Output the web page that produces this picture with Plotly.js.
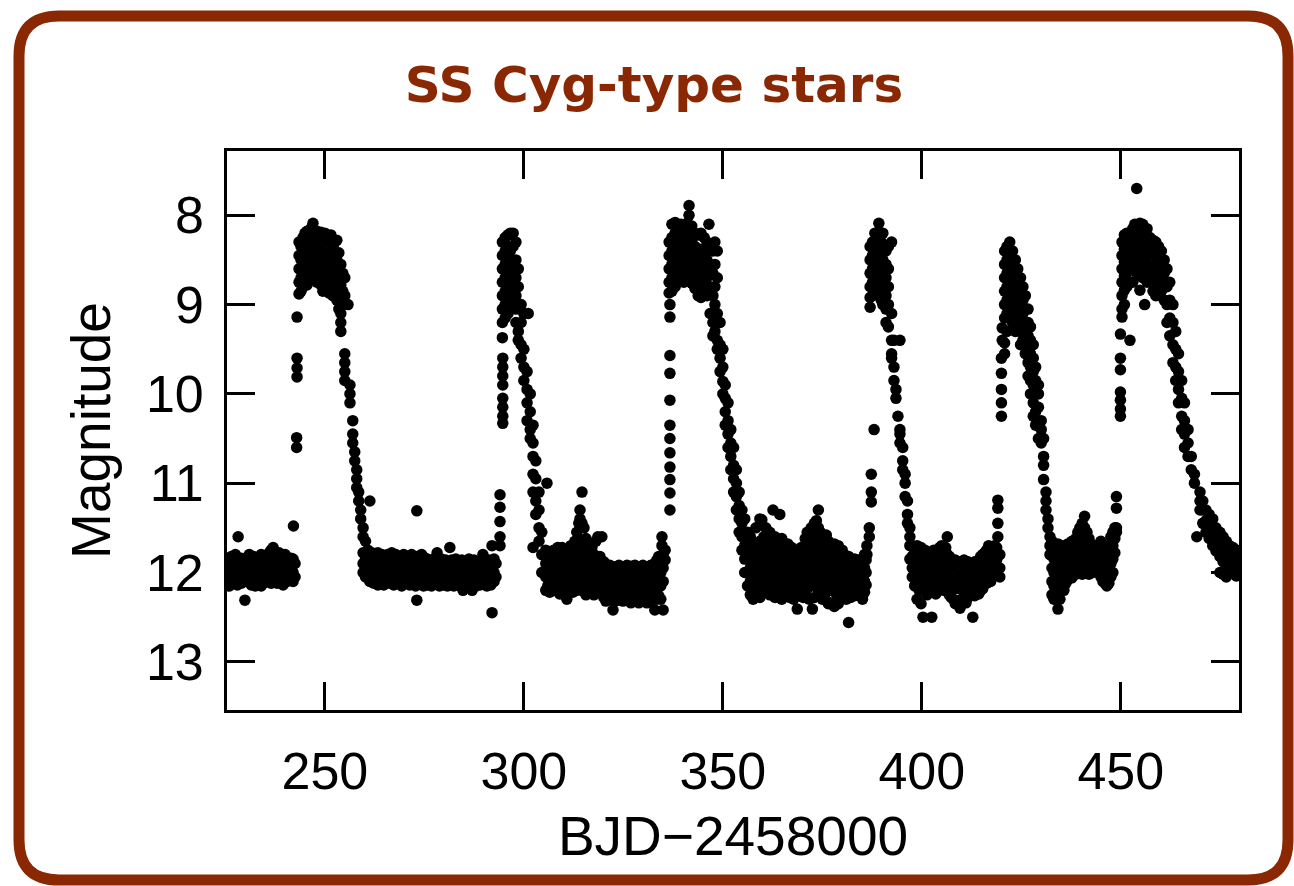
<!DOCTYPE html>
<html>
<head>
<meta charset="utf-8">
<script src="https://cdn.plot.ly/plotly-3.0.1.min.js"></script>
<style>
html,body{margin:0;padding:0;background:#fff;}
#chart{width:1294px;height:886px;}
</style>
</head>
<body>
<div id="chart"></div>
<script>
// ---- Data: each row is [BJD-2458000, magnitude, magnitude, ...] ----
const quiescence1 = [
[225.6, 11.85, 11.98, 12.10],[226.0, 11.90, 12.05, 12.15],[226.5, 11.82, 11.95, 12.08],
[227.0, 11.88, 12.00, 12.12],[227.5, 11.80, 11.92, 12.05],[228.0, 11.86, 12.00, 12.14],
[228.2, 11.60],[228.5, 11.90, 12.02, 12.10],[229.0, 11.84, 11.96, 12.12],[229.5, 11.90, 12.05],
[229.9, 12.31, 11.95],[230.5, 11.85, 11.98, 12.10],[231.0, 11.80, 11.92, 12.06],
[231.5, 11.88, 12.00, 12.14],[232.0, 11.82, 11.95, 12.08],[232.5, 11.90, 12.04, 12.15],
[233.0, 11.85, 11.98, 12.10],[233.5, 11.88, 12.02],[234.0, 11.80, 11.94, 12.08, 12.15],
[234.5, 11.86, 12.00, 12.12],[235.0, 11.82, 11.96, 12.10],[235.5, 11.90, 12.04],
[236.0, 11.78, 11.92, 12.06],[236.5, 11.75, 11.88, 12.00, 12.12],[237.0, 11.72, 11.85, 11.98, 12.10],
[237.5, 11.80, 11.94, 12.06],[238.0, 11.85, 12.00, 12.12],[238.5, 11.78, 11.90, 12.04],
[239.0, 11.82, 11.95, 12.10],[239.5, 11.88, 12.02, 12.14],[240.0, 11.80, 11.92, 12.05],
[240.5, 11.86, 11.98, 12.10],[241.0, 11.90, 12.04],[241.5, 11.84, 11.96],
[242.0, 11.85, 12.00, 12.10],[242.5, 11.90, 12.05]
];
const outburst1 = [
[242.1, 11.48],[242.9, 10.60, 10.49],[243.0, 9.81, 9.71, 9.60, 9.14],
[243.5, 8.30, 8.45, 8.60, 8.75, 8.88],[244.0, 8.35, 8.50, 8.70, 8.85],[244.5, 8.25, 8.40, 8.55, 8.80],
[245.0, 8.20, 8.38, 8.60, 8.72],[245.5, 8.18, 8.32, 8.50, 8.65, 8.78],[246.0, 8.22, 8.45, 8.62],
[246.5, 8.15, 8.30, 8.55, 8.70],[247.0, 8.09, 8.25, 8.40, 8.60],[247.5, 8.20, 8.35, 8.52, 8.68],
[248.0, 8.18, 8.30, 8.48, 8.62, 8.75],[248.5, 8.25, 8.40, 8.55],[249.0, 8.19, 8.35, 8.60, 8.78],
[249.5, 8.22, 8.42, 8.70, 8.85],[250.0, 8.20, 8.30, 8.50, 8.65],[250.5, 8.26, 8.45, 8.60, 8.80],
[251.0, 8.30, 8.50, 8.68, 8.87],[251.5, 8.22, 8.40, 8.58, 8.75],[252.0, 8.35, 8.55, 8.70, 8.90],
[252.5, 8.30, 8.45, 8.62, 8.82],[253.0, 8.28, 8.50, 8.72, 8.95],[253.5, 8.42, 8.60, 8.85, 9.05],
[254.0, 8.55, 8.78, 9.10, 9.20, 9.30],[254.5, 8.65, 8.85, 9.00],[255.0, 8.70, 8.90, 9.55, 9.65, 9.75, 9.85],
[255.8, 9.00],[256.3, 9.90, 10.00, 10.10],[257.0, 10.30, 10.45, 10.55],[257.5, 10.65, 10.75],
[258.0, 10.85, 10.95, 11.05],[258.5, 11.10, 11.20],[259.0, 11.30, 11.40],
[259.6, 11.50, 11.60, 11.78, 11.90, 12.00],[260.2, 11.65, 11.85, 12.05]
];
const quiescence2 = [
[260.8, 11.75, 11.90, 12.05],[261.3, 11.20, 11.82, 11.98, 12.10],[261.8, 11.78, 11.92, 12.06],
[262.3, 11.85, 12.00, 12.12],[262.8, 11.80, 11.95, 12.08],[263.3, 11.78, 11.90, 12.04, 12.14],
[263.8, 11.85, 11.98, 12.10],[264.3, 11.80, 11.94, 12.06],[264.8, 11.88, 12.02, 12.14],
[265.3, 11.82, 11.96, 12.10],[265.8, 11.80, 11.92, 12.05],[266.3, 11.86, 12.00, 12.12],
[266.8, 11.78, 11.94, 12.08],[267.3, 11.84, 11.98, 12.14],[267.8, 11.80, 11.90, 12.04],
[268.3, 11.86, 12.00, 12.12],[268.8, 11.82, 11.95, 12.08],[269.3, 11.88, 12.02, 12.15],
[269.8, 11.80, 11.94, 12.06],[270.3, 11.85, 11.98, 12.10],[270.8, 11.82, 11.92, 12.05],
[271.3, 11.86, 12.00, 12.14],[271.8, 11.80, 11.96, 12.08],[272.3, 11.84, 11.98, 12.12],
[272.8, 11.88, 12.02, 12.15],[273.1, 11.31, 12.31],[273.3, 11.82, 11.95, 12.08],
[273.8, 11.86, 12.00, 12.12],[274.3, 11.80, 11.94, 12.06],[274.8, 11.88, 12.04, 12.15],
[275.3, 11.84, 11.98, 12.10],[275.8, 11.90, 12.02, 12.14],[276.3, 11.86, 11.96, 12.08],
[276.8, 11.90, 12.04, 12.15],[277.3, 11.85, 12.00, 12.12],[277.8, 11.90, 12.05],
[278.2, 11.78, 11.92, 12.08],[278.8, 11.88, 12.02, 12.15],[279.3, 11.85, 11.98, 12.10],
[279.8, 11.90, 12.04, 12.14],[280.3, 11.86, 12.00, 12.12],[280.8, 11.90, 12.06, 12.15],
[281.4, 11.72, 11.88, 12.00, 12.12],[281.9, 11.86, 12.02, 12.14],[282.4, 11.90, 12.05, 12.15],
[282.9, 11.85, 12.00, 12.10],[283.4, 11.88, 12.04, 12.14],[283.9, 11.90, 12.02, 12.12],
[284.4, 11.86, 12.00, 12.15],[284.7, 12.20],[285.2, 11.88, 12.04, 12.14],[285.7, 11.90, 12.00, 12.10],
[286.2, 11.85, 12.05, 12.15],[286.7, 11.90, 12.02, 12.12],[287.0, 12.20],[287.5, 11.86, 12.00, 12.14],
[288.0, 11.90, 12.04, 12.15],[288.5, 11.88, 12.02, 12.10],[289.0, 11.90, 12.05, 12.14],
[289.7, 11.80, 11.92, 12.06],[290.2, 11.88, 12.00, 12.12],[290.7, 11.90, 12.04, 12.15],
[291.2, 11.86, 12.00, 12.10],[291.7, 11.88, 12.04, 12.14],[292.0, 11.70, 11.90, 12.05, 12.45],
[292.5, 11.85, 12.00, 12.10],[293.0, 11.90, 12.05]
];
const outburst2 = [
[294.0, 11.70, 11.60, 11.43, 11.27, 11.13],[294.7, 10.33, 10.25, 10.15, 10.05, 9.90, 9.80, 9.70, 9.60],
[294.6, 9.37, 9.20, 9.05, 8.90, 8.75, 8.60, 8.45, 8.30],[295.3, 8.25, 8.40, 8.55, 8.70, 8.85, 9.00, 9.15],
[296.0, 8.22, 8.35, 8.50, 8.65, 8.80, 8.95, 9.10],[296.6, 8.20, 8.40, 8.60, 8.75, 8.90],
[297.3, 8.20, 8.35, 8.55, 8.70, 8.85, 9.00],[298.0, 8.30, 8.50, 8.70, 8.90, 9.05, 9.20],
[298.6, 8.60, 8.80, 9.00, 9.30, 9.40],[299.3, 9.00, 9.20, 9.45, 9.60],[300.0, 9.10, 9.50, 9.70, 9.85],
[300.8, 9.75, 9.95, 10.10, 10.30],[301.1, 9.10],[301.6, 10.00, 10.20, 10.40, 10.50],
[302.3, 10.35, 10.55, 10.70, 10.90, 11.10, 11.72],[303.0, 10.75, 10.95, 11.20, 11.35],
[303.8, 11.10, 11.30, 11.50, 11.65],[304.5, 11.55, 11.80, 12.00],[305.8, 11.00]
];
const quiescence3 = [
[305.5, 11.75, 11.90, 12.05, 12.20],[306.0, 11.85, 12.00, 12.15],[306.5, 11.78, 11.92, 12.08, 12.22],
[307.0, 11.82, 11.96, 12.10],[307.5, 11.75, 11.90, 12.04, 12.20],[308.0, 11.80, 11.95, 12.12],
[308.5, 11.72, 11.88, 12.02, 12.18],[309.0, 11.80, 11.94, 12.10, 12.24],[309.6, 11.72, 11.86, 12.00, 12.15],
[310.2, 11.78, 11.92, 12.06, 12.20],[310.8, 11.84, 11.98, 12.12, 12.30],[311.3, 11.75, 11.90, 12.05, 12.20],
[311.8, 11.70, 11.85, 12.00, 12.15],[312.3, 11.78, 11.92, 12.08, 12.22],[312.8, 11.65, 11.82, 11.98, 12.12],
[313.3, 11.55, 11.72, 11.90, 12.05, 12.20],[313.8, 11.45, 11.62, 11.80, 11.95, 12.10],[314.1, 11.30, 11.40],
[314.6, 11.10, 11.45, 11.70, 11.88, 12.05, 12.20],[315.1, 11.50, 11.68, 11.85, 12.00, 12.15],
[315.6, 11.62, 11.80, 11.95, 12.10, 12.25],[316.1, 11.70, 11.86, 12.00, 12.18],[316.6, 11.75, 11.90, 12.05, 12.20],
[317.1, 11.72, 11.88, 12.02, 12.16],[317.6, 11.80, 11.95, 12.10, 12.25],[318.1, 11.65, 11.85, 12.00, 12.15],
[318.6, 11.60, 11.90, 12.05, 12.20],[319.1, 11.82, 11.96, 12.12],[319.6, 11.60, 11.90, 12.04, 12.20],
[320.1, 11.88, 12.00, 12.15, 12.28],[320.6, 11.92, 12.05, 12.20, 12.32],[321.1, 11.95, 12.08, 12.22],
[321.6, 11.92, 12.04, 12.18, 12.30],[322.1, 11.96, 12.10, 12.25],[322.4, 12.42],
[322.9, 11.94, 12.06, 12.20, 12.32],[323.4, 11.98, 12.12, 12.26],[323.9, 11.92, 12.05, 12.18, 12.30],
[324.4, 11.95, 12.10, 12.24],[324.9, 11.94, 12.06, 12.20, 12.32],[325.4, 11.98, 12.12, 12.26],
[325.9, 11.92, 12.04, 12.18, 12.30],[326.4, 11.96, 12.10, 12.24],[326.9, 11.93, 12.06, 12.20, 12.34],
[327.4, 11.98, 12.12, 12.26],[327.9, 11.92, 12.05, 12.18, 12.30],[328.4, 11.95, 12.10, 12.25],
[328.9, 11.94, 12.08, 12.22, 12.34],[329.4, 11.96, 12.12, 12.28],[329.9, 11.92, 12.04, 12.18, 12.30],
[330.4, 11.98, 12.10, 12.24],[330.9, 11.94, 12.06, 12.20, 12.34],[331.4, 11.96, 12.12, 12.28],
[331.9, 11.92, 12.05, 12.20, 12.32],[332.4, 11.95, 12.10, 12.26],[332.9, 11.90, 12.04, 12.18, 12.42],
[333.4, 11.86, 12.00, 12.14, 12.30],[333.9, 11.82, 11.98, 12.12, 12.26],[334.4, 11.85, 12.00, 12.15, 12.30],
[335.0, 11.80, 11.95, 12.10, 12.42]
];
const outburst3 = [
[334.7, 11.60, 11.70],[335.5, 11.75, 11.86],
[336.7, 11.30, 11.11, 10.96, 10.82, 10.66, 10.50, 10.35, 10.07, 9.77, 9.57, 9.14, 9.00],
[336.5, 8.30, 8.45, 8.60, 8.75, 8.87],[337.2, 8.10, 8.25, 8.40, 8.55, 8.70, 8.85],
[338.0, 8.08, 8.20, 8.35, 8.50, 8.65, 8.80],[338.8, 8.12, 8.28, 8.45, 8.60, 8.75],
[339.5, 8.10, 8.25, 8.40, 8.55, 8.70],[340.2, 8.15, 8.30, 8.45, 8.60, 8.75],
[341.0, 8.09, 8.22, 8.38, 8.52, 8.66],[341.5, 7.89, 8.00, 8.15, 8.30],
[342.2, 8.12, 8.28, 8.45, 8.60, 8.76],[343.0, 8.20, 8.35, 8.50, 8.68, 8.82],
[343.8, 8.22, 8.40, 8.58, 8.75, 8.90],[344.5, 8.20, 8.38, 8.55, 8.72, 8.92],
[345.3, 8.25, 8.45, 8.62, 8.80],[346.0, 8.30, 8.50, 8.70, 8.90],[346.5, 8.10, 8.35, 8.60],
[346.8, 8.80, 9.10],[347.5, 8.40, 8.65, 8.90, 9.20, 9.35],[348.0, 8.30, 8.55, 8.80, 9.00, 9.30],
[348.6, 8.40, 8.70, 9.10, 9.40, 9.50],[349.3, 9.20, 9.45, 9.60, 9.75],[350.0, 9.50, 9.70, 9.86, 10.00],
[350.6, 9.90, 10.05, 10.20, 10.35],[351.3, 10.10, 10.30, 10.45, 10.60],[352.0, 10.40, 10.55, 10.70, 10.85],
[352.7, 10.60, 10.80, 10.95, 11.10],[353.4, 10.85, 11.00, 11.15, 11.30],[354.1, 11.10, 11.25, 11.40, 11.55],
[354.8, 11.30, 11.45, 11.60, 11.75],[355.5, 11.40, 11.55, 11.70, 11.85, 12.00],
[356.2, 11.55, 11.70, 11.85, 12.00, 12.15],[356.9, 11.60, 11.78, 11.95, 12.10, 12.25],
[357.6, 11.70, 11.85, 12.00, 12.15, 12.30],[358.3, 11.50, 11.75, 11.90, 12.05, 12.20],
[359.3, 11.40, 11.65, 11.82, 11.98, 12.12, 12.28]
];
const quiescence4 = [
[359.8, 11.41, 11.70, 11.88, 12.05, 12.20],[360.3, 11.60, 11.78, 11.95, 12.12],
[360.8, 11.50, 11.72, 11.90, 12.05, 12.22],[361.3, 11.65, 11.82, 12.00, 12.15],
[361.8, 11.55, 11.75, 11.92, 12.08, 12.25],[362.3, 11.70, 11.85, 12.02, 12.18],[362.6, 11.30],
[363.1, 11.60, 11.80, 11.96, 12.12, 12.28],[363.6, 11.72, 11.90, 12.05, 12.20],
[364.3, 11.35, 11.70, 11.85, 12.00, 12.15],[364.8, 11.62, 11.80, 11.98, 12.12, 12.30],
[365.3, 11.70, 11.88, 12.04, 12.18],[365.8, 11.75, 11.92, 12.08, 12.25],[366.3, 11.68, 11.85, 12.00, 12.15],
[366.8, 11.78, 11.95, 12.10, 12.28],[367.3, 11.72, 11.88, 12.04, 12.20],[367.8, 11.80, 11.96, 12.12, 12.30],
[368.3, 11.75, 11.90, 12.06, 12.22],[368.7, 11.85, 12.00, 12.15, 12.41],[369.2, 11.78, 11.94, 12.10, 12.26],
[369.7, 11.72, 11.88, 12.04, 12.20],[370.2, 11.80, 11.96, 12.12, 12.28],
[370.7, 11.62, 11.78, 11.94, 12.10, 12.24],[371.2, 11.55, 11.70, 11.86, 12.02, 12.18],
[371.7, 11.60, 11.75, 11.92, 12.08, 12.30],[372.2, 11.50, 11.68, 11.85, 12.00, 12.15],[372.5, 12.41],
[373.0, 11.45, 11.65, 11.82, 11.98, 12.14, 12.28],[373.5, 11.42, 11.60, 11.78, 11.95, 12.10],
[374.0, 11.30, 11.50, 11.70, 11.88, 12.04, 12.20],[374.5, 11.55, 11.72, 11.90, 12.06, 12.22],
[375.0, 11.60, 11.78, 11.95, 12.10, 12.30],[375.5, 11.62, 11.80, 11.96, 12.12, 12.26],
[376.0, 11.58, 11.75, 11.92, 12.08, 12.22],[376.5, 11.65, 11.82, 11.98, 12.15, 12.35],
[377.0, 11.70, 11.85, 12.02, 12.18, 12.34],[377.5, 11.72, 11.90, 12.05, 12.20],
[378.0, 11.68, 11.84, 12.00, 12.15, 12.38],[378.5, 11.75, 11.92, 12.08, 12.24],
[379.0, 11.70, 11.86, 12.02, 12.18, 12.35],[379.5, 11.78, 11.94, 12.10, 12.26],
[380.0, 11.75, 11.90, 12.05, 12.20],[380.5, 11.80, 11.95, 12.10, 12.24],[381.0, 11.85, 12.00, 12.14, 12.30],
[381.6, 11.82, 11.98, 12.12, 12.56],[382.1, 11.86, 12.00, 12.15, 12.28],[382.6, 11.90, 12.04, 12.18],
[383.1, 11.85, 12.00, 12.12, 12.26],[383.6, 11.88, 12.02, 12.16],[384.1, 11.86, 12.00, 12.14, 12.25],
[384.6, 11.90, 12.04, 12.18],[385.1, 11.85, 12.00, 12.12, 12.30],[385.6, 11.80, 11.95, 12.10, 12.22],
[386.0, 11.86, 12.00, 12.14]
];
const outburst4 = [
[386.2, 11.80, 11.70],[386.8, 11.60, 11.50],[387.3, 11.21, 11.10, 10.90],[388.0, 10.40],
[387.0, 8.35, 8.50, 8.65, 8.80, 8.92, 9.03],[387.6, 8.30, 8.45, 8.60, 8.75, 8.90],
[388.2, 8.20, 8.35, 8.50, 8.65, 8.80],[389.2, 8.09, 8.25, 8.40, 8.55, 8.70, 8.85],
[389.8, 8.30, 8.45, 8.60, 8.75, 8.95],[390.2, 8.20, 8.35, 8.50, 8.70, 8.85, 9.00],
[391.0, 8.40, 8.55, 8.70, 8.90, 9.05, 9.20],[391.6, 8.35, 8.60, 8.80, 9.00, 9.25],
[392.4, 8.30, 9.10, 9.40, 9.55, 9.60],[393.0, 9.40, 9.70, 9.85],[393.5, 9.95, 10.05],[394.0, 10.25],
[394.5, 9.40, 10.40, 10.45, 10.55],[395.2, 10.60, 10.75, 10.85],[395.8, 10.90, 11.00, 11.15],
[396.4, 11.20, 11.35, 11.45],[397.0, 11.50, 11.60, 11.70, 11.85],[397.6, 11.70, 11.82, 11.95, 12.05],
[398.2, 11.75, 11.90, 12.02, 12.15]
];
const quiescence5 = [
[398.8, 11.70, 11.85, 12.00, 12.15, 12.30],[399.3, 11.78, 11.92, 12.06, 12.20],
[399.8, 11.72, 11.88, 12.02, 12.16, 12.35],[400.3, 11.80, 11.95, 12.10, 12.50],
[400.8, 11.75, 11.90, 12.04, 12.20],[401.3, 11.82, 11.96, 12.10, 12.25],[401.8, 11.78, 11.92, 12.06, 12.20],
[402.5, 11.85, 12.00, 12.14, 12.50],[403.0, 11.75, 11.90, 12.05, 12.20],[403.5, 11.80, 11.95, 12.10, 12.24],
[404.0, 11.78, 11.92, 12.06, 12.20],[404.5, 11.72, 11.88, 12.02, 12.16],[405.0, 11.70, 11.85, 12.00, 12.15],
[405.5, 11.76, 11.90, 12.05, 12.20],[406.0, 11.72, 11.88, 12.02, 12.18],[406.4, 11.60, 11.80, 11.95, 12.10],
[406.9, 11.82, 11.96, 12.10, 12.25],[407.4, 11.85, 12.00, 12.14, 12.28],[407.9, 11.88, 12.02, 12.16, 12.30],
[408.4, 11.86, 12.00, 12.14, 12.35],[408.9, 11.90, 12.04, 12.18, 12.32],[409.6, 11.88, 12.02, 12.16, 12.40],
[410.1, 11.90, 12.04, 12.18, 12.30],[410.6, 11.86, 12.00, 12.14, 12.26],[411.1, 11.90, 12.05, 12.20, 12.34],
[411.6, 11.88, 12.02, 12.16, 12.28],[412.1, 11.90, 12.04, 12.18],[412.8, 11.92, 12.06, 12.20, 12.50],
[413.3, 11.88, 12.00, 12.14, 12.26],[413.8, 11.90, 12.04, 12.18],[414.3, 11.86, 12.00, 12.12, 12.24],
[414.8, 11.82, 11.96, 12.10, 12.20],[415.3, 11.80, 11.95, 12.08, 12.18],[415.8, 11.78, 11.92, 12.05],
[416.3, 11.75, 11.88, 12.02, 12.12],[416.8, 11.70, 11.85, 12.00],[417.3, 11.72, 11.86, 12.00, 12.10],
[417.8, 11.75, 11.90, 12.04],[418.3, 11.70, 11.84, 11.98],[418.8, 11.72, 11.86, 12.00],
[419.1, 11.19, 11.28, 11.45, 11.60]
];
const outburst5 = [
[419.6, 11.80, 11.95, 12.05],[420.0, 10.25, 10.10, 9.95, 9.77, 9.60],[420.2, 9.40, 9.26],
[420.8, 8.40, 8.55, 8.70, 8.85, 9.00, 9.15, 9.43, 9.55],[421.4, 8.35, 8.50, 8.65, 8.80, 8.95, 9.10, 9.30],
[422.1, 8.30, 8.45, 8.60, 8.75, 8.90, 9.05],[422.8, 8.40, 8.55, 8.70, 8.85, 9.00, 9.20],
[423.5, 8.50, 8.65, 8.80, 8.95, 9.10, 9.30],[424.1, 8.60, 8.75, 8.90, 9.05, 9.25],
[424.8, 8.70, 8.85, 9.00, 9.15, 9.30, 9.45],[425.4, 8.80, 8.95, 9.10, 9.25, 9.40],
[426.0, 8.90, 9.05, 9.20, 9.40, 9.55],[426.7, 9.05, 9.20, 9.35, 9.50, 9.65, 9.80],
[427.3, 9.25, 9.40, 9.55, 9.70, 9.85, 10.00],[428.0, 9.45, 9.60, 9.75, 9.90, 10.10, 10.25],
[428.6, 9.70, 9.85, 10.00, 10.20, 10.35],[429.3, 9.90, 10.00, 10.15, 10.35, 10.50],[430.0, 10.30, 10.40, 10.55],
[430.6, 10.50, 10.70, 10.80, 10.96],[431.2, 11.10, 11.20, 11.30],[431.7, 11.40, 11.50],
[432.2, 11.60, 11.70, 11.80]
];
const quiescence6 = [
[432.7, 11.65, 11.80, 11.95, 12.10, 12.25],[433.2, 11.70, 11.85, 12.00, 12.15, 12.30],
[433.7, 11.75, 11.90, 12.05, 12.20],[434.2, 11.68, 11.82, 11.98, 12.12, 12.41],
[434.7, 11.72, 11.88, 12.02, 12.18, 12.30],[435.2, 11.70, 11.85, 12.00, 12.14],
[435.7, 11.75, 11.90, 12.04, 12.20],[436.2, 11.72, 11.86, 12.00, 12.12],[436.7, 11.68, 11.82, 11.96, 12.08],
[437.2, 11.70, 11.85, 12.00],[437.7, 11.65, 11.80, 11.94, 12.06],[438.2, 11.70, 11.84, 11.98],
[438.7, 11.62, 11.76, 11.90, 12.02],[439.2, 11.55, 11.70, 11.85, 11.98],[439.7, 11.50, 11.65, 11.80, 11.94],
[440.3, 11.45, 11.60, 11.75, 11.90, 12.02],[440.9, 11.37, 11.50, 11.65, 11.80, 11.95],
[441.5, 11.55, 11.70, 11.85, 12.00],[442.0, 11.62, 11.76, 11.90, 12.02],[442.5, 11.68, 11.82, 11.96],
[443.0, 11.70, 11.85, 12.00],[443.5, 11.72, 11.86, 11.98],[444.0, 11.70, 11.84, 11.96],
[444.5, 11.75, 11.88, 12.00],[445.0, 11.65, 11.80, 11.94, 12.05],[445.5, 11.70, 11.85, 11.98, 12.10],
[446.0, 11.72, 11.86, 12.00, 12.12],[446.5, 11.75, 11.90, 12.05, 12.15],[447.0, 11.70, 11.85, 12.00, 12.12],
[447.5, 11.60, 11.75, 11.90, 12.05],[448.0, 11.55, 11.70, 11.85, 12.00],[448.5, 11.50, 11.62, 11.78],
[448.9, 11.15, 11.28, 11.50, 11.55]
];
const outburst6 = [
[449.9, 10.25, 10.17, 10.07, 9.98, 9.73, 9.60, 9.33],[450.3, 8.30, 8.45, 8.60, 8.75, 8.90, 9.05, 9.14],
[450.9, 8.22, 8.38, 8.52, 8.68, 8.84, 9.00],[451.5, 8.20, 8.35, 8.50, 8.65, 8.80],
[452.3, 8.30, 8.45, 8.60, 8.75, 9.40],[453.0, 8.15, 8.30, 8.45, 8.60, 8.75],[453.5, 8.10, 8.25, 8.40, 8.55],
[454.0, 7.70, 8.20, 8.35, 8.50, 8.65],[454.8, 8.09, 8.22, 8.38, 8.52, 8.68, 8.84],
[455.5, 8.10, 8.25, 8.40, 8.55, 8.70],[456.0, 8.20, 8.35, 8.50, 8.65, 9.00],
[456.6, 8.15, 8.30, 8.45, 8.60, 8.75],[457.3, 8.25, 8.40, 8.55, 8.70],[458.1, 8.28, 8.42, 8.58, 8.72, 8.85],
[458.8, 8.30, 8.45, 8.60, 8.75, 8.90],[459.5, 8.35, 8.50, 8.65, 8.80],[460.2, 8.40, 8.55, 8.70, 8.85],
[460.9, 8.50, 8.65, 8.80, 8.95],[461.6, 8.60, 8.80, 9.00, 9.20],[462.3, 8.75, 8.95, 9.15, 9.35],
[463.1, 9.00, 9.20, 9.45, 9.65],[463.8, 9.30, 9.50, 9.70, 9.85],[464.5, 9.55, 9.75, 9.95, 10.10],
[465.3, 9.85, 10.05, 10.25, 10.40],[466.0, 10.10, 10.30, 10.45, 10.60],[466.9, 10.40, 10.55, 10.70],
[467.7, 10.70, 10.85],[468.5, 10.90, 11.00],[469.1, 11.60],[469.9, 11.10, 11.20, 11.30],
[470.6, 11.20, 11.30, 11.45],[471.4, 11.30, 11.42, 11.55],[472.2, 11.35, 11.50, 11.62],
[473.1, 11.40, 11.55, 11.70],[473.9, 11.50, 11.62, 11.76],[474.9, 11.55, 11.70, 11.82, 12.00],
[475.7, 11.60, 11.75, 11.88, 12.02],[476.5, 11.65, 11.80, 11.92, 12.05],[477.3, 11.70, 11.84, 11.96],
[478.2, 11.72, 11.86, 12.00],[479.0, 11.75, 11.90, 12.04],[479.6, 11.80, 11.95]
];
const segments = [quiescence1, outburst1, quiescence2, outburst2, quiescence3, outburst3,
                  quiescence4, outburst4, quiescence5, outburst5, quiescence6, outburst6];

const xTickVals = [250, 300, 350, 400, 450];
const xTickText = ['250', '300', '350', '400', '450'];
const yTickVals = [8, 9, 10, 11, 12, 13];
const yTickText = ['8', '9', '10', '11', '12', '13'];

// ---- Build point lists ----
const bjd = [], mag = [];
segments.forEach(seg => seg.forEach(row => {
  for (let k = 1; k < row.length; k++) { bjd.push(row[0]); mag.push(row[k]); }
}));

// ---- Layout ----
const W = 1294, H = 886;
const M = {l: 227, r: 55, t: 151, b: 176, pad: 0};
const pw = W - M.l - M.r, ph = H - M.t - M.b;
const px = p => (p - M.l) / pw;
const py = p => (H - M.b - p) / ph;
const fL = 19, fR = 1288, fT = 16, fB = 880, fr = 40;
const framePath =
  `M ${px(fL + fr)} ${py(fT)} L ${px(fR - fr)} ${py(fT)} Q ${px(fR)} ${py(fT)} ${px(fR)} ${py(fT + fr)} ` +
  `L ${px(fR)} ${py(fB - fr)} Q ${px(fR)} ${py(fB)} ${px(fR - fr)} ${py(fB)} ` +
  `L ${px(fL + fr)} ${py(fB)} Q ${px(fL)} ${py(fB)} ${px(fL)} ${py(fB - fr)} ` +
  `L ${px(fL)} ${py(fT + fr)} Q ${px(fL)} ${py(fT)} ${px(fL + fr)} ${py(fT)} Z`;

const frameColor = '#8a2803';
const tickFont = {family: 'Liberation Sans, Arial, Helvetica, sans-serif', size: 52, color: '#000'};
const titleFont = {family: 'Liberation Sans, Arial, Helvetica, sans-serif', size: 55, color: '#000'};

const trace = {
  type: 'scatter', mode: 'markers', x: bjd, y: mag,
  marker: {color: '#000', size: 11.5, line: {width: 0}},
  hoverinfo: 'x+y', showlegend: false
};

const axisCommon = {
  showgrid: false, zeroline: false, showline: true, linecolor: '#000', linewidth: 2.8,
  mirror: 'ticks', ticks: 'inside', ticklen: 28, tickwidth: 2.8, tickcolor: '#000',
  tickfont: tickFont, tickmode: 'array', automargin: false
};

const layout = {
  width: W, height: H, margin: M,
  paper_bgcolor: '#fff', plot_bgcolor: '#fff',
  title: {
    text: 'SS Cyg-type stars',
    font: {family: 'DejaVu Sans, Liberation Sans, Arial, sans-serif', size: 50, color: frameColor, weight: 'bold'},
    x: 654 / W, xref: 'container', xanchor: 'center',
    y: 1 - 84 / H, yref: 'container', yanchor: 'middle'
  },
  xaxis: Object.assign({}, axisCommon, {
    range: [225.4, 479.7], tickvals: xTickVals, ticktext: xTickText, ticklabelstandoff: 14,
    title: {text: 'BJD\u22122458000', font: titleFont, standoff: 18}
  }),
  yaxis: Object.assign({}, axisCommon, {
    range: [13.54, 7.28], tickvals: yTickVals, ticktext: yTickText, ticklabelstandoff: 10,
    title: {text: 'Magnitude', font: titleFont, standoff: 18}
  }),
  shapes: [{
    type: 'path', xref: 'paper', yref: 'paper', path: framePath,
    line: {color: frameColor, width: 11}, fillcolor: 'rgba(0,0,0,0)', layer: 'above'
  }]
};

Plotly.newPlot('chart', [trace], layout, {staticPlot: true, displayModeBar: false});
</script>
</body>
</html>
